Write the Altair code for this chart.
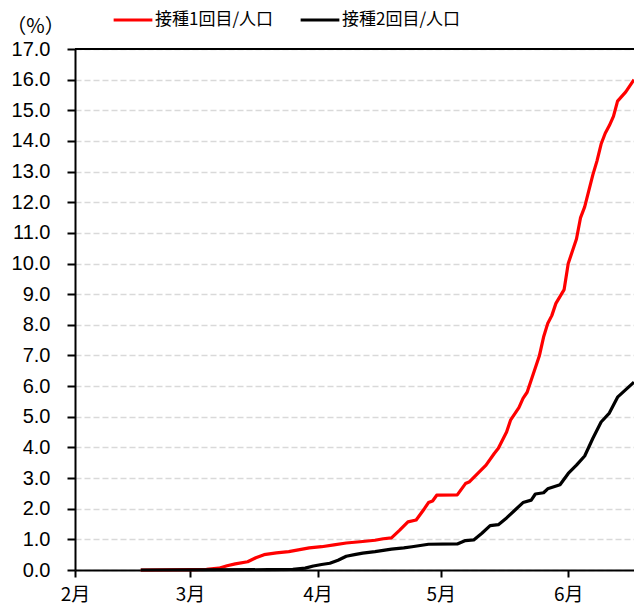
import altair as alt
import pandas as pd

# Share of population vaccinated (%), first and second dose
dose1_dates = [
    "2021-02-17", "2021-03-01", "2021-03-05", "2021-03-08", "2021-03-10", "2021-03-12",
    "2021-03-15", "2021-03-17", "2021-03-19", "2021-03-22", "2021-03-25", "2021-03-27",
    "2021-03-30", "2021-04-02", "2021-04-05", "2021-04-08", "2021-04-12", "2021-04-15",
    "2021-04-17", "2021-04-19", "2021-04-21", "2021-04-23", "2021-04-25", "2021-04-27",
    "2021-04-28", "2021-04-29", "2021-04-30", "2021-05-05", "2021-05-07", "2021-05-08",
    "2021-05-10", "2021-05-12", "2021-05-14", "2021-05-15", "2021-05-17", "2021-05-18",
    "2021-05-20", "2021-05-21", "2021-05-22", "2021-05-24", "2021-05-25", "2021-05-26",
    "2021-05-27", "2021-05-28", "2021-05-29", "2021-05-31", "2021-06-01", "2021-06-02",
    "2021-06-03", "2021-06-04", "2021-06-05", "2021-06-07", "2021-06-08", "2021-06-09",
    "2021-06-10", "2021-06-11", "2021-06-12", "2021-06-13", "2021-06-15", "2021-06-17",
]
dose1_values = [
    0.0, 0.01, 0.02, 0.06, 0.14, 0.2,
    0.27, 0.4, 0.5, 0.56, 0.6, 0.65,
    0.72, 0.76, 0.82, 0.88, 0.93, 0.97,
    1.02, 1.05, 1.3, 1.57, 1.63, 2.0,
    2.2, 2.25, 2.44, 2.45, 2.82, 2.88,
    3.15, 3.42, 3.8, 3.97, 4.5, 4.9,
    5.3, 5.6, 5.8, 6.6, 7.0, 7.6,
    8.04, 8.3, 8.7, 9.15, 10.0, 10.4,
    10.8, 11.5, 11.85, 12.9, 13.35, 13.9,
    14.25, 14.5, 14.8, 15.3, 15.6, 16.0,
]

dose2_dates = [
    "2021-02-17", "2021-03-20", "2021-03-26", "2021-03-29", "2021-03-31", "2021-04-02",
    "2021-04-04", "2021-04-06", "2021-04-08", "2021-04-10", "2021-04-12", "2021-04-15",
    "2021-04-19", "2021-04-22", "2021-04-24", "2021-04-28", "2021-05-05", "2021-05-07",
    "2021-05-09", "2021-05-11", "2021-05-13", "2021-05-15", "2021-05-17", "2021-05-19",
    "2021-05-21", "2021-05-23", "2021-05-24", "2021-05-26", "2021-05-27", "2021-05-30",
    "2021-06-01", "2021-06-03", "2021-06-05", "2021-06-07", "2021-06-09", "2021-06-11",
    "2021-06-13", "2021-06-17",
]
dose2_values = [
    0.0, 0.01, 0.02, 0.06, 0.13, 0.18,
    0.22, 0.32, 0.45, 0.5, 0.55, 0.6,
    0.68, 0.72, 0.76, 0.84, 0.85, 0.96,
    0.98, 1.2, 1.45, 1.48, 1.7, 1.95,
    2.2, 2.28, 2.48, 2.52, 2.65, 2.78,
    3.15, 3.42, 3.72, 4.3, 4.83, 5.12,
    5.64, 6.13,
]

series_names = ["接種1回目/人口", "接種2回目/人口"]
series_colors = ["#ff0000", "#000000"]
y_ticks = list(range(0, 18))
month_ticks = [alt.DateTime(year=2021, month=m, date=1, utc=True) for m in [2, 3, 4, 5, 6]]
x_start = alt.DateTime(year=2021, month=2, date=1, utc=True)
x_end = alt.DateTime(year=2021, month=6, date=17, utc=True)

df = pd.concat([
    pd.DataFrame({"date": dose1_dates, "value": dose1_values, "series": series_names[0]}),
    pd.DataFrame({"date": dose2_dates, "value": dose2_values, "series": series_names[1]}),
])

y_scale = alt.Scale(domain=[0, 17], nice=False, zero=True)
y_axis = alt.Axis(
    values=y_ticks,
    format=".1f",
    labelOverlap=False,
    title="（%）",
    titleAngle=0,
    titleX=-40,
    titleY=-23,
    titleAlign="center",
    titleBaseline="middle",
    titleFont="Noto Sans CJK JP",
    titleFontSize=20,
    titleFontWeight="normal",
    titleColor="black",
    grid=True,
    gridColor="#d9d9d9",
    gridDash=[6, 3],
    gridWidth=1.5,
    domainColor="black",
    domainWidth=2,
    tickColor="black",
    tickWidth=2,
    tickSize=8,
    labelFont="Liberation Sans",
    labelFontSize=20,
    labelColor="black",
    labelPadding=17,
)

lines = alt.Chart(df).mark_line(strokeWidth=3.2, strokeJoin="round").encode(
    x=alt.X(
        "date:T",
        scale=alt.Scale(type="utc", domain=[x_start, x_end]),
        axis=alt.Axis(
            values=month_ticks,
            labelExpr="(utcmonth(datum.value) + 1) + '月'",
            title=None,
            grid=False,
            domainColor="black",
            domainWidth=2,
            tickColor="black",
            tickWidth=2,
            tickSize=7,
            labelFont="Noto Sans CJK JP",
            labelFontSize=19,
            labelColor="black",
            labelPadding=8,
            labelAlign="center",
        ),
    ),
    y=alt.Y("value:Q", scale=y_scale, axis=y_axis, title="（%）"),
    color=alt.Color(
        "series:N",
        scale=alt.Scale(domain=series_names, range=series_colors),
        legend=alt.Legend(
            title=None,
            orient="none",
            direction="horizontal",
            legendX=37,
            legendY=-50,
            symbolType="stroke",
            symbolSize=1500,
            symbolStrokeWidth=3.2,
            labelFont="Noto Sans CJK JP",
            labelFontSize=17,
            labelColor="black",
            labelOffset=1,
            columnPadding=20,
        ),
    ),
)

# Solid frame line along the top of the plot
top_frame = alt.Chart(pd.DataFrame({"y": [17]})).mark_rule(color="black", strokeWidth=2).encode(
    y=alt.Y("y:Q", scale=y_scale, axis=y_axis, title="（%）")
)

chart = (
    alt.layer(lines, top_frame)
    .properties(
        width=559,
        height=521,
        padding={"left": 75, "top": 49, "right": 0, "bottom": 34},
        autosize=alt.AutoSizeParams(type="none"),
        background="white",
    )
    .configure_view(stroke=None)
)

chart.save("out.html", embed_options={"renderer": "svg", "actions": False})
